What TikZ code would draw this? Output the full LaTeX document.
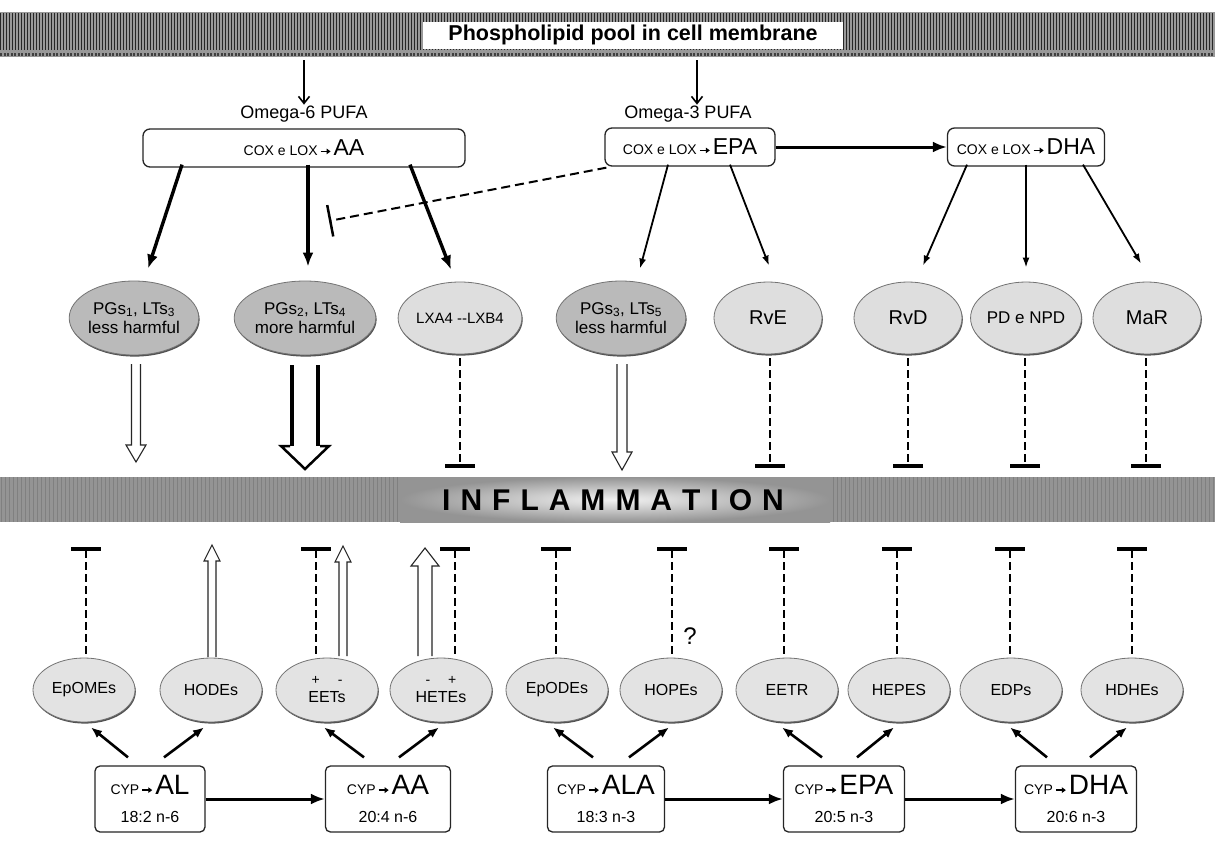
\documentclass[tikz,border=0pt]{standalone}
\usepackage{fontspec}
\setmainfont{Liberation Sans}
\usetikzlibrary{arrows.meta,calc,shapes.geometric,shadows}
\newcommand{\rarr}{\tikz[baseline=-0.6ex]\draw[line width=1.3pt,-{Triangle[length=4pt,width=5.5pt]}] (0pt,0pt)--(10pt,0pt);}
\newcommand{\hollowdn}[7]{\draw[line width=#7, draw=black!85, fill=white, line join=miter] (#1-#4,#2) -- (#1-#4,#3-#6) -- (#1-#5,#3-#6) -- (#1,#3) -- (#1+#5,#3-#6) -- (#1+#4,#3-#6) -- (#1+#4,#2);}
\newcommand{\hollowup}[7]{\draw[line width=#7, draw=black!85, fill=white, line join=miter] (#1-#4,#2) -- (#1-#4,#3+#6) -- (#1-#5,#3+#6) -- (#1,#3) -- (#1+#5,#3+#6) -- (#1+#4,#3+#6) -- (#1+#4,#2);}
\newcommand{\ls}{\hspace{10pt}}
\tikzset{
 lbl/.style={font=\fontsize{18}{20}\selectfont, inner sep=1pt},
 cbox/.style={draw=black!85, line width=1.3pt, rounded corners=7pt, fill=white, inner sep=0pt, align=center},
 bbox/.style={cbox, rounded corners=5pt, minimum height=66pt, font=\fontsize{16}{28}\selectfont},
 ellbase/.style={ellipse, draw=black!55, line width=0.8pt, inner sep=0pt, align=center,
   drop shadow={shadow xshift=0.8pt, shadow yshift=-1.6pt, fill=black!75, opacity=0.9}},
 ellD/.style={ellbase, fill=black!27, minimum width=118pt, minimum height=74pt, font=\fontsize{17}{19}\selectfont},
 ellL/.style={ellbase, fill=black!13, minimum width=108pt, minimum height=72pt, font=\fontsize{20}{22}\selectfont},
 ellS/.style={ellbase, fill=black!11, minimum width=102pt, minimum height=64pt, font=\fontsize{16}{18}\selectfont},
 memarr/.style={line width=1.8pt, -{Straight Barb[length=7pt,width=11pt,line width=1.6pt]}},
 bigarr/.style={line width=3.4pt, -{Latex[length=14pt,width=11pt]}},
 medarr/.style={line width=1.8pt, -{Latex[length=10pt,width=7pt]}},
 botarr/.style={line width=2.6pt, -{Latex[length=11pt,width=9pt]}},
 hzarr/.style={line width=3pt, -{Latex[length=14pt,width=11pt]}},
 inhv/.style={line width=1.8pt, dash pattern=on 8pt off 4pt, -{Bar[width=30pt,line width=4pt]}},
 inhd/.style={line width=2pt, dash pattern=on 9pt off 5pt, -{Bar[width=32pt,line width=2.5pt]}},
}
\newcommand{\inhdown}[2]{\draw[inhv] ($(#1.south)+(#2,4)$) coordinate (tmp) -- (tmp |- tb1);}
\newcommand{\inhup}[2]{\draw[inhv] ($(#1.north)+(#2,-4)$) coordinate (tmp) -- (tmp |- tb2);}
\newcommand{\cyp}[3]{{\fontsize{14}{16}\selectfont CYP\,\rarr\,\fontsize{28}{28}\selectfont #1}\\#2:#3}
\newcommand{\coxlox}[1]{\fontsize{14}{16}\selectfont COX e LOX\,\rarr\,\fontsize{23}{24}\selectfont #1}
\begin{document}
\begin{tikzpicture}[x=1pt,y=-1pt]
\fill[white] (0,0) rectangle (1215,849);
\useasboundingbox (0,0) rectangle (1215,849);
% membrane band
\fill[black!40] (0,12) rectangle (1215,57);
\foreach \i in {0,3,...,1213} \draw[black!85,line width=1pt] (\i+0.5,13)--(\i+0.5,50);
\draw[black!75,line width=3pt,dash pattern=on 2pt off 1.5pt] (0,54)--(1215,54);
\node[fill=white,minimum width=420pt,minimum height=27pt,inner sep=0pt,font=\bfseries\fontsize{21.5}{23}\selectfont] (pool) at (633,35) {Phospholipid pool in cell membrane};
\coordinate (m6) at (304,60);
\coordinate (m3) at (697,60);
\coordinate (tb1) at (0,468);
\coordinate (tb2) at (0,547);
% omega labels and boxes
\node[lbl] (om6) at (304,114) {Omega-6 PUFA};
\node[lbl] (om3) at (688,114) {Omega-3 PUFA};
\draw[memarr] (m6) -- (m6 |- om6.north);
\draw[memarr] (m3) -- (m3 |- om3.north);
\node[cbox, minimum width=322pt, minimum height=38pt] (aa) at (304,148) {\coxlox{AA}};
\node[cbox, minimum width=170pt, minimum height=38pt] (epa) at (690,147) {\coxlox{EPA}};
\node[cbox, minimum width=157pt, minimum height=38pt] (dha) at (1026,147) {\coxlox{DHA}};
\draw[hzarr] (epa) -- (dha);
% upper ellipses
\node[ellD] (pg1) at (134,318) {PGs\textsubscript{1}, LTs\textsubscript{3}\\less harmful};
\node[ellD] (pg2) at (305,318) {PGs\textsubscript{2}, LTs\textsubscript{4}\\more harmful};
\node[ellL, font=\fontsize{15}{17}\selectfont, minimum width=110pt] (lx) at (460,318) {LXA4 -{}-LXB4};
\node[ellD] (pg3) at (621,318) {PGs\textsubscript{3}, LTs\textsubscript{5}\\less harmful};
\node[ellL] (rve) at (768,318) {RvE};
\node[ellL] (rvd) at (908,318) {RvD};
\node[ellL, font=\fontsize{17}{19}\selectfont] (pd) at (1026,318) {PD e NPD};
\node[ellL] (mar) at (1147,318) {MaR};
% arrows to upper ellipses
\draw[bigarr] ($(aa.south)+(-122,-3)$) -- ($(pg1.north)+(14,-12)$);
\draw[bigarr] ($(aa.south)+(4,-3)$) -- ($(pg2.north)+(3,-14)$);
\draw[bigarr] ($(aa.south)+(106,-3)$) -- ($(lx.north)+(-9,-12)$);
\coordinate (inhend) at (329,221);
\draw[inhd] ($(epa.south west)+(2,1)$) -- (inhend);
\draw[medarr] ($(epa.south)+(-22,-2)$) -- ($(pg3.north)+(19,-12)$);
\draw[medarr] ($(epa.south)+(40,-2)$) -- ($(rve.north)+(1,-16)$);
\draw[medarr] ($(dha.south)+(-59,-2)$) -- ($(rvd.north)+(15,-16)$);
\draw[medarr] ($(dha.south)+(0,-2)$) -- ($(pd.north)+(0,-14)$);
\draw[medarr] ($(dha.south)+(57,-2)$) -- ($(mar.north)+(-6,-18)$);
% effects of upper mediators
\hollowdn{136}{364}{462}{4.5}{10}{17}{1.1pt}
\draw[line width=4pt] (292,365)--(292,446) (318,365)--(318,446);
\draw[line width=2.5pt, fill=white, line join=miter] (290,446)--(281,446)--(305,469)--(329,446)--(320,446);
\hollowdn{622}{364}{470}{5}{10}{18}{1.1pt}
\inhdown{lx}{0}
\inhdown{rve}{2}
\inhdown{rvd}{0}
\inhdown{pd}{-1}
\inhdown{mar}{-1}
% inflammation band
\fill[black!42] (0,477) rectangle (1215,522);
\foreach \i in {0,4,...,1213} \draw[black!50,line width=0.8pt] (\i+1,477)--(\i+1,522);
\shade[inner color=black!5, outer color=black!42] (400,477) rectangle (830,522);
\node[font=\bfseries\fontsize{30}{32}\selectfont] (infl) at (613,500) {I\ls N\ls F\ls L\ls A\ls M\ls M\ls A\ls T\ls I\ls O\ls N};
% lower ellipses
\node[ellS] (ep) at (84,690) {EpOMEs};
\node[ellS] (hode) at (211,690) {HODEs};
\node[ellS] (eet) at (327,690) {{\fontsize{14}{14}\selectfont +\hspace{18pt}-}\\EETs};
\node[ellS] (hete) at (441,690) {{\fontsize{14}{14}\selectfont -\hspace{18pt}+}\\HETEs};
\node[ellS] (epode) at (557,690) {EpODEs};
\node[ellS] (hope) at (671,690) {HOPEs};
\node[ellS] (eetr) at (787,690) {EETR};
\node[ellS] (hepe) at (899,690) {HEPES};
\node[ellS] (edp) at (1011,690) {EDPs};
\node[ellS] (hdhe) at (1132,690) {HDHEs};
% effects of lower mediators
\inhup{ep}{2}
\hollowup{212}{657}{545}{4}{8}{16}{1.1pt}
\inhup{eet}{-11}
\hollowup{343}{656}{546}{4}{8}{16}{1.1pt}
\hollowup{425}{656}{548}{7}{14}{18}{1.1pt}
\inhup{hete}{14}
\inhup{epode}{-1}
\inhup{hope}{1}
\node[font=\fontsize{24}{26}\selectfont] (q) at (690,636) {?};
\inhup{eetr}{-3}
\inhup{hepe}{-2}
\inhup{edp}{-1}
\inhup{hdhe}{0}
% CYP boxes
\node[bbox, minimum width=110pt] (al) at (150,799) {\cyp{AL}{18}{2 n-6}};
\node[bbox, minimum width=125pt] (aa2) at (388,799) {\cyp{AA}{20}{4 n-6}};
\node[bbox, minimum width=117pt] (ala) at (606,799) {\cyp{ALA}{18}{3 n-3}};
\node[bbox, minimum width=121pt] (epa2) at (844,799) {\cyp{EPA}{20}{5 n-3}};
\node[bbox, minimum width=121pt] (dha2) at (1076,799) {\cyp{DHA}{20}{6 n-3}};
\draw[hzarr] (al) -- (aa2);
\draw[hzarr] (ala) -- (epa2);
\draw[hzarr] (epa2) -- (dha2);
\draw[botarr] ($(al.north)+(-22,-8)$) -- ($(ep.south)+(7,5)$);
\draw[botarr] ($(al.north)+(14,-8)$) -- ($(hode.south)+(-7,5)$);
\draw[botarr] ($(aa2.north)+(-24,-8)$) -- ($(eet.south)+(-3,5)$);
\draw[botarr] ($(aa2.north)+(11,-8)$) -- ($(hete.south)+(-2,5)$);
\draw[botarr] ($(ala.north)+(-13,-8)$) -- ($(epode.south)+(-4,5)$);
\draw[botarr] ($(ala.north)+(23,-8)$) -- ($(hope.south)+(-2,5)$);
\draw[botarr] ($(epa2.north)+(-22,-8)$) -- ($(eetr.south)+(-5,5)$);
\draw[botarr] ($(epa2.north)+(13,-8)$) -- ($(hepe.south)+(-5,5)$);
\draw[botarr] ($(dha2.north)+(-29,-8)$) -- ($(edp.south)+(-1,5)$);
\draw[botarr] ($(dha2.north)+(14,-8)$) -- ($(hdhe.south)+(-5,5)$);
\end{tikzpicture}
\end{document}
